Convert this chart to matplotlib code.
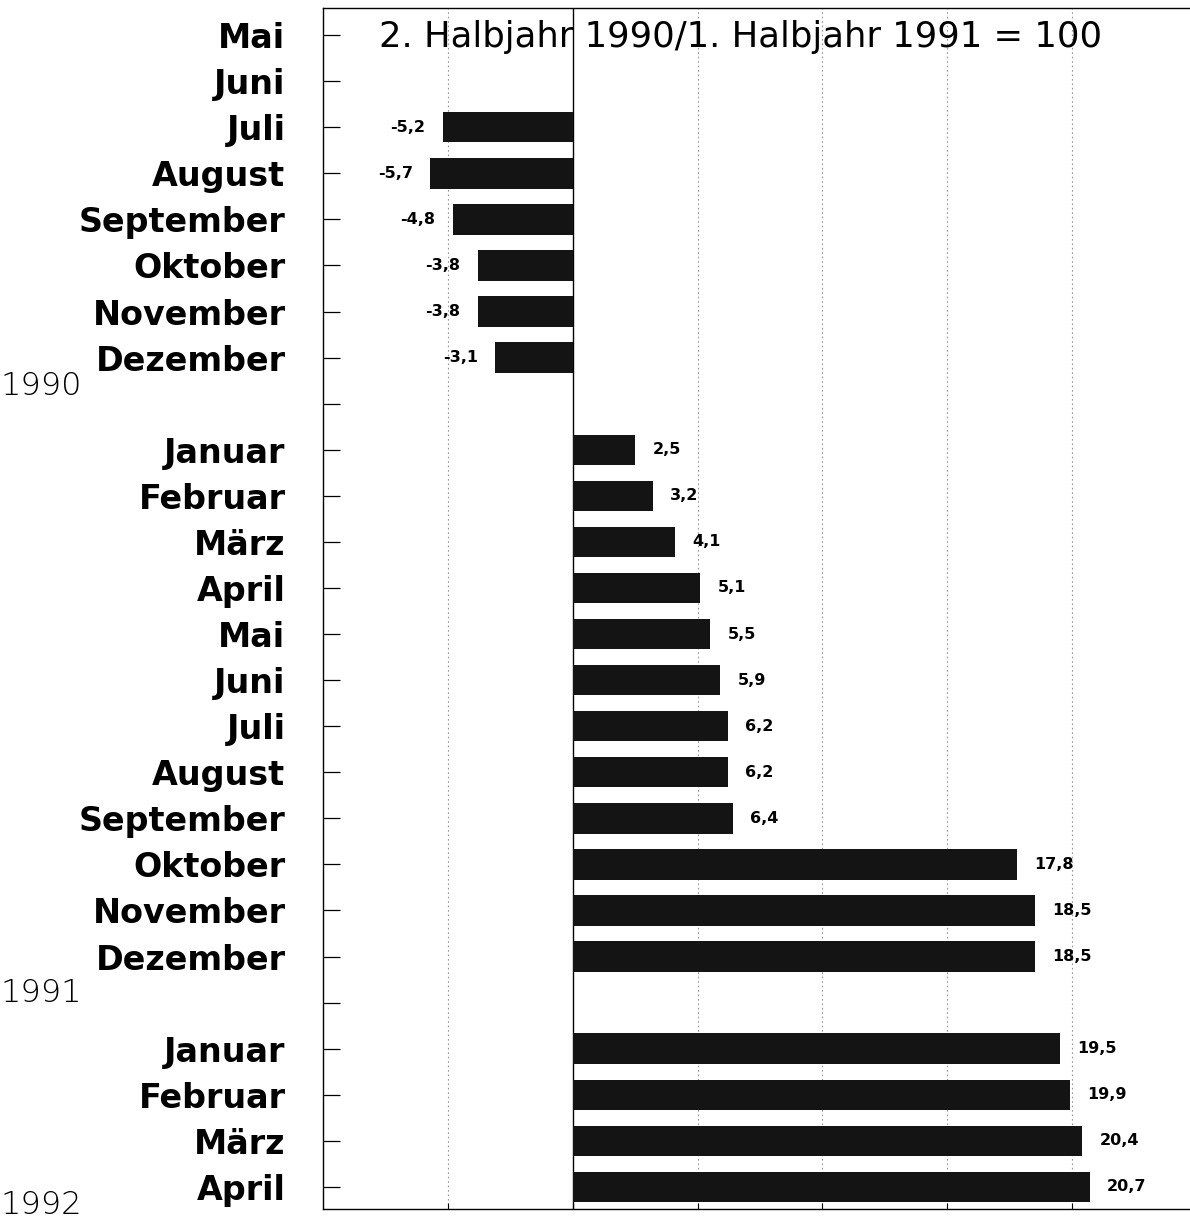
import matplotlib
matplotlib.use("Agg")
import matplotlib.pyplot as plt

# Data (Veraenderung in %, 2. Halbjahr 1990/1. Halbjahr 1991 = 100)
months_1990 = ["Mai", "Juni", "Juli", "August", "September", "Oktober", "November", "Dezember"]
values_1990 = [None, None, -5.2, -5.7, -4.8, -3.8, -3.8, -3.1]

months_1991 = ["Januar", "Februar", "März", "April", "Mai", "Juni", "Juli", "August",
               "September", "Oktober", "November", "Dezember"]
values_1991 = [2.5, 3.2, 4.1, 5.1, 5.5, 5.9, 6.2, 6.2, 6.4, 17.8, 18.5, 18.5]

months_1992 = ["Januar", "Februar", "März", "April"]
values_1992 = [19.5, 19.9, 20.4, 20.7]

years = ["1990", "1991", "1992"]
title = "2. Halbjahr 1990/1. Halbjahr 1991 = 100"

# build rows, one empty row between the years
labels = months_1990 + [""] + months_1991 + [""] + months_1992
values = values_1990 + [None] + values_1991 + [None] + values_1992
rows = list(range(len(labels)))

fig = plt.figure(figsize=(11.9, 12.27), dpi=100)
ax = fig.add_axes([0.2714, 0.0147, 0.7286, 0.9788])

bar_color = "#141414"
for y, v in zip(rows, values):
    if v is None:
        continue
    ax.barh(y, v, height=0.66, color=bar_color, zorder=3)
    txt = f"{v:.1f}".replace(".", ",")
    if v < 0:
        ax.text(v - 0.7, y, txt, ha="right", va="center", fontsize=11.5,
                fontweight="bold", zorder=4)
    else:
        ax.text(v + 0.7, y, txt, ha="left", va="center", fontsize=11.5,
                fontweight="bold", zorder=4)

ax.set_xlim(-10, 24.72)
ax.set_ylim(len(labels) - 0.52, -0.59)

# grid
for gx in [-5, 5, 10, 15, 20]:
    ax.axvline(gx, color="#999999", lw=0.8, ls=(0, (1.5, 2.5)), zorder=1)
ax.axvline(0, color="black", lw=1.0, zorder=2)

ax.set_yticks(rows)
ax.set_yticklabels(labels, fontsize=24, fontweight="bold")
ax.tick_params(axis="y", direction="in", length=12, width=0.9, pad=27)
ax.set_xticks([-5, 0, 5, 10, 15, 20])
ax.set_xticklabels([])
ax.tick_params(axis="x", direction="in", length=4, width=0.8)

ax.spines["right"].set_visible(False)
for s in ["left", "top", "bottom"]:
    ax.spines[s].set_linewidth(1.0)

ax.text(0.065, 0.99, title, transform=ax.transAxes, ha="left", va="top", fontsize=25.5)

# year labels on the left edge of the figure
year_rows = [7.62, 20.8, 25.4]
for yr, yy in zip(years, year_rows):
    ax.text(-0.372, yy, yr, transform=ax.get_yaxis_transform(), ha="left", va="center",
            fontsize=23, fontweight="light", clip_on=False)

fig.savefig("out.png", dpi=100)
